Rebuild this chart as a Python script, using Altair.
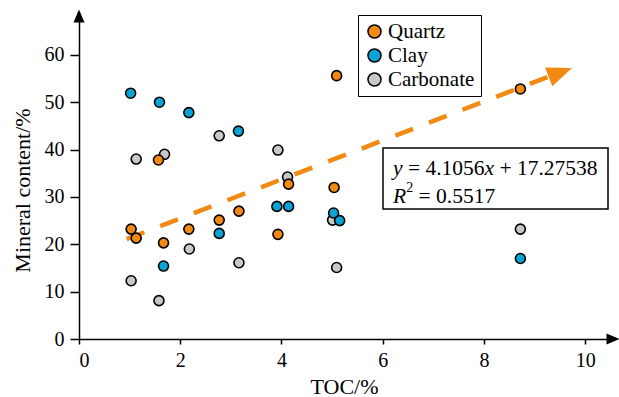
import altair as alt
import pandas as pd

# ---- data ----
minerals = ["Quartz", "Clay", "Carbonate"]
colors = ["#F28A12", "#0AA3D6", "#C8C8C8"]

quartz_toc = [1.03, 1.13, 1.57, 1.67, 2.17, 2.77, 3.16, 3.93, 4.14, 5.04, 5.09, 8.72]
quartz_val = [23.2, 21.3, 37.8, 20.3, 23.2, 25.1, 27.0, 22.1, 32.7, 32.0, 55.6, 52.8]

clay_toc = [1.02, 1.59, 1.67, 2.17, 2.77, 3.15, 3.91, 4.14, 5.03, 5.15, 8.72]
clay_val = [51.9, 50.0, 15.4, 47.8, 22.3, 43.9, 28.0, 28.0, 26.6, 25.0, 17.0]

carb_toc = [1.03, 1.13, 1.58, 1.69, 2.18, 2.77, 3.16, 3.93, 4.12, 5.01, 5.09, 8.72]
carb_val = [12.3, 38.0, 8.1, 39.0, 19.0, 42.9, 16.1, 39.9, 34.2, 25.1, 15.1, 23.2]

trend_x = [0.94, 9.35]
trend_y = [21.1, 55.7]
trend_tip = [9.51, 56.3]

x_ticks = [0, 2, 4, 6, 8, 10]
y_ticks = [0, 10, 20, 30, 40, 50, 60]
x_max = 10.55
y_max = 68.2

FONT = "Liberation Serif"
W, H = 534, 323

rows = []
for name, xs, ys in [("Carbonate", carb_toc, carb_val), ("Clay", clay_toc, clay_val), ("Quartz", quartz_toc, quartz_val)]:
    for a, b in zip(xs, ys):
        rows.append({"TOC": a, "Mineral content": b, "Mineral": name})
pts = pd.DataFrame(rows)

xscale = alt.Scale(domain=[0, x_max], nice=False, zero=True)
yscale = alt.Scale(domain=[0, y_max], nice=False, zero=True)

xaxis = alt.Axis(values=x_ticks, title="TOC/%", tickSize=5, labelPadding=6,
                 titleY=54, titleBaseline="alphabetic", titleX=W / 2 - 2)
yaxis = alt.Axis(values=y_ticks, title="Mineral content/%", tickSize=9, labelPadding=6,
                 titleX=-57, titleY=174, titleBaseline="middle", titleAlign="center", titleAngle=270)

trend_df = pd.DataFrame({"x": trend_x, "y": trend_y})
trend = alt.Chart(trend_df).mark_line(color="#F28A12", strokeWidth=4.5, strokeDash=[19, 17]).encode(
    x=alt.X("x:Q", scale=xscale, axis=xaxis),
    y=alt.Y("y:Q", scale=yscale, axis=yaxis),
)

arrow_path = "M0,-1L0.8,1L-0.8,1Z"
trend_head = alt.Chart(pd.DataFrame({"x": [trend_tip[0]], "y": [trend_tip[1]]})).mark_point(
    shape=arrow_path, size=625, angle=69, filled=True, color="#F28A12", opacity=1
).encode(x="x:Q", y="y:Q")

points = alt.Chart(pts).mark_point(
    shape="circle", size=100, filled=True, stroke="black", strokeWidth=1.6, opacity=1
).encode(
    x=alt.X("TOC:Q", scale=xscale, axis=xaxis),
    y=alt.Y("Mineral content:Q", scale=yscale, axis=yaxis),
    fill=alt.Fill("Mineral:N", scale=alt.Scale(domain=minerals, range=colors),
                  legend=alt.Legend(title=None, orient="none", legendX=279, legendY=-1,
                                    symbolType="circle", symbolSize=169,
                                    symbolStrokeColor="black", symbolStrokeWidth=1.5,
                                    labelFont=FONT, labelFontSize=21, labelColor="black",
                                    labelOffset=3, padding=6, rowPadding=2,
                                    strokeColor="black", fillColor="white",
                                    labelLimit=300)),
)

axis_heads = alt.Chart(pd.DataFrame({"x": [0, x_max], "y": [y_max, 0], "a": [0, 90]})).mark_point(
    shape="M0,-1L0.85,1L-0.85,1Z", size=169, filled=True, color="black", opacity=1
).encode(x="x:Q", y="y:Q", angle=alt.Angle("a:Q", scale=None))

# ---- equation box ----
ox, oy = 79, 16
eq_box = alt.Chart(pd.DataFrame({"k": [0]})).mark_rect(
    fill="white", stroke="black", strokeWidth=1.5
).encode(x=alt.value(383 - ox), x2=alt.value(608 - ox), y=alt.value(148 - oy), y2=alt.value(209 - oy))

fs = 21.5
SP = 0.25 * fs
def tw(s):
    w = 0
    for ch in s:
        if ch.isdigit():
            w += 0.5
        elif ch in ". ":
            w += 0.25
        elif ch in "=+":
            w += 0.564
    return w * fs

slope_txt = "4.1056"
icpt_txt = "17.27538"
r2_txt = "0.5517"

pieces = []
x0 = 393
b1 = 175
b2 = 203
pieces.append(("y", x0, b1, "italic", fs))
x1 = x0 + 0.444 * fs + SP
s1 = "= " + slope_txt
pieces.append((s1, x1, b1, "normal", fs))
x2 = x1 + tw(s1)
pieces.append(("x", x2, b1, "italic", fs))
x3 = x2 + 0.444 * fs + SP
s2 = "+ " + icpt_txt
pieces.append((s2, x3, b1, "normal", fs))
pieces.append(("R", x0, b2, "italic", fs))
xr = x0 + 0.611 * fs
pieces.append(("2", xr, b2 - 11, "normal", 14))
s3 = "= " + r2_txt
pieces.append((s3, xr + 7 + SP, b2, "normal", fs))

eq_layers = []
for txt, px, py, style, size in pieces:
    eq_layers.append(
        alt.Chart(pd.DataFrame({"t": [txt]})).mark_text(
            align="left", baseline="alphabetic", font=FONT, fontSize=size, fontStyle=style, color="black"
        ).encode(x=alt.value(px - ox), y=alt.value(py - oy), text="t:N")
    )

chart = alt.layer(trend, trend_head, points, axis_heads, eq_box, *eq_layers).properties(
    width=W, height=H,
    background="white",
    autosize=alt.AutoSizeParams(type="none"),
    padding={"left": ox, "top": oy, "right": 619 - ox - W, "bottom": 397 - oy - H},
).configure_view(stroke=None).configure_axis(
    grid=False, domainColor="black", domainWidth=1.5, tickColor="black", tickWidth=1.5,
    labelFont=FONT, labelFontSize=20, labelColor="black",
    titleFont=FONT, titleFontSize=22, titleFontWeight="normal", titleColor="black",
)

chart.save("out.html", embed_options={"renderer": "svg", "actions": False})
